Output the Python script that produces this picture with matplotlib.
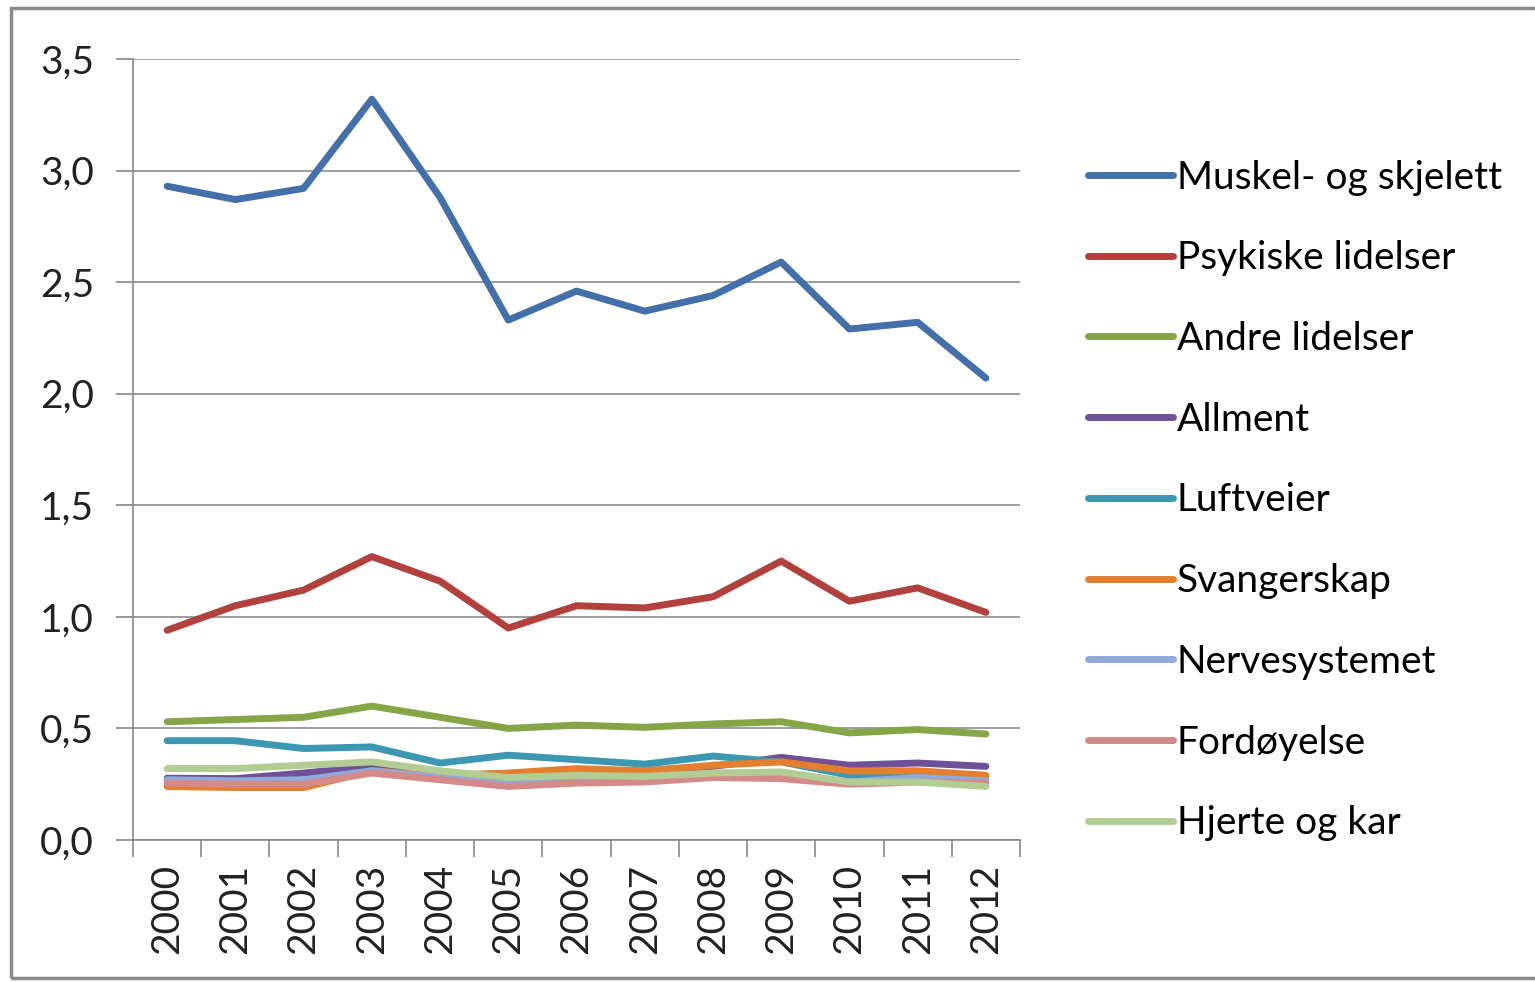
import matplotlib
matplotlib.use("Agg")
import matplotlib.pyplot as plt
from matplotlib.patches import Rectangle

years = ["2000", "2001", "2002", "2003", "2004", "2005", "2006",
         "2007", "2008", "2009", "2010", "2011", "2012"]

muskel = [2.93, 2.87, 2.92, 3.32, 2.88, 2.33, 2.46, 2.37, 2.44, 2.59, 2.29, 2.32, 2.07]
psykiske = [0.94, 1.05, 1.12, 1.27, 1.16, 0.95, 1.05, 1.04, 1.09, 1.25, 1.07, 1.13, 1.02]
andre = [0.53, 0.54, 0.55, 0.60, 0.55, 0.50, 0.515, 0.505, 0.52, 0.53, 0.48, 0.495, 0.475]
allment = [0.277, 0.275, 0.30, 0.33, 0.30, 0.28, 0.30, 0.31, 0.33, 0.37, 0.335, 0.345, 0.33]
luftveier = [0.445, 0.445, 0.41, 0.417, 0.345, 0.38, 0.36, 0.34, 0.376, 0.35, 0.29, 0.29, 0.28]
svangerskap = [0.24, 0.235, 0.235, 0.31, 0.29, 0.30, 0.32, 0.31, 0.335, 0.35, 0.31, 0.31, 0.29]
nervesystemet = [0.27, 0.265, 0.27, 0.31, 0.28, 0.25, 0.28, 0.27, 0.28, 0.29, 0.26, 0.28, 0.265]
fordoyelse = [0.255, 0.25, 0.25, 0.30, 0.27, 0.24, 0.255, 0.26, 0.28, 0.275, 0.25, 0.26, 0.255]
hjerte = [0.32, 0.32, 0.335, 0.35, 0.31, 0.28, 0.29, 0.285, 0.30, 0.305, 0.26, 0.26, 0.24]

labels = ["Muskel- og skjelett", "Psykiske lidelser", "Andre lidelser", "Allment",
          "Luftveier", "Svangerskap", "Nervesystemet", "Fordøyelse", "Hjerte og kar"]
series = [muskel, psykiske, andre, allment, luftveier, svangerskap,
          nervesystemet, fordoyelse, hjerte]
colors = ["#4370AB", "#B2403C", "#85A547", "#6E5196", "#3C97B0",
          "#E2802F", "#8FAADB", "#D48A89", "#B2CD93"]
yticks = [0.0, 0.5, 1.0, 1.5, 2.0, 2.5, 3.0, 3.5]
ytick_labels = ["0,0", "0,5", "1,0", "1,5", "2,0", "2,5", "3,0", "3,5"]

plt.rcParams['font.family'] = ['Lato', 'DejaVu Sans']

W, H = 1535, 982
fig = plt.figure(figsize=(W / 100, H / 100), dpi=100)
ax = fig.add_axes([133 / W, (H - 840) / H, (1020 - 133) / W, (840 - 59) / H])

x = list(range(len(years)))
for s, c, l in zip(series, colors, labels):
    ax.plot(x, s, color=c, lw=5, label=l, solid_capstyle='round', solid_joinstyle='round')

ax.set_xlim(-0.5, len(years) - 0.5)
ax.set_ylim(0, 3.5)
ax.set_yticks(yticks)
ax.set_yticklabels(ytick_labels, fontsize=28, color="#222222")
ax.set_xticks(x)
ax.set_xticklabels(years, rotation=90, fontsize=28, color="#222222")
ax.set_xticks([i - 0.5 for i in range(len(years) + 1)], minor=True)
ax.tick_params(axis='x', which='major', length=0, pad=17)
ax.tick_params(axis='x', which='minor', length=12, width=1.2, color="#888888", direction='out')
ax.tick_params(axis='y', length=12, width=1.2, color="#888888", pad=16)
ax.grid(axis='y', color="#8C8C8C", lw=1.2)
ax.set_axisbelow(True)
for sp in ['top', 'right']:
    ax.spines[sp].set_visible(False)
ax.spines['left'].set_color("#888888")
ax.spines['left'].set_linewidth(1.2)
ax.spines['bottom'].set_color("#888888")
ax.spines['bottom'].set_linewidth(1.2)

handles, labs = ax.get_legend_handles_labels()
fig.legend(handles, labs, loc='upper left', bbox_to_anchor=(1072 / W, 1 - 144 / H),
           frameon=False, fontsize=28, handlelength=2.2, handletextpad=0.1,
           labelspacing=1.15, borderaxespad=0)

fig.patches.append(Rectangle((11 / W, 4 / H), 1.0, 1 - 12 / H, transform=fig.transFigure,
                             fill=False, edgecolor="#8A8A8A", lw=2.5))

fig.savefig("out.png", dpi=100)
